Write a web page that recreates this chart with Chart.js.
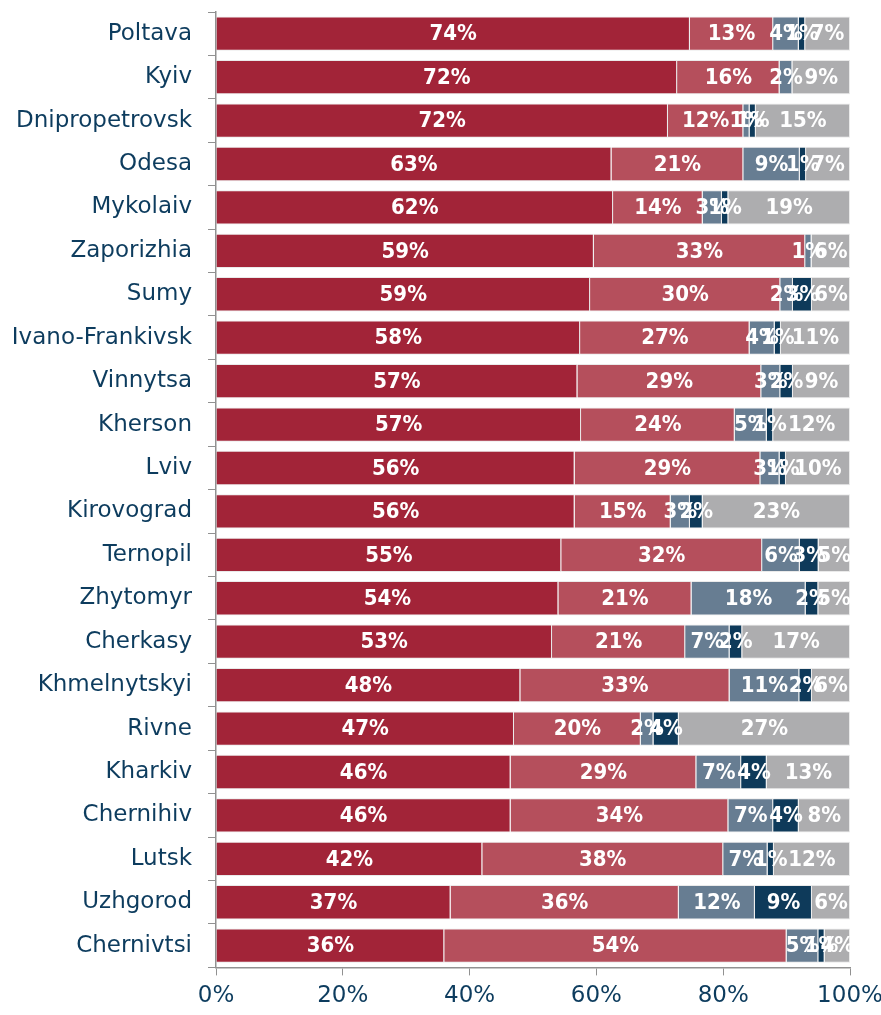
<!DOCTYPE html>
<html>
<head>
<meta charset="utf-8">
<script src="https://cdn.jsdelivr.net/npm/chart.js@4"></script>
<style>
  html, body { margin: 0; padding: 0; background: #fff; }
  #wrap { width: 881px; height: 1015px; }
</style>
</head>
<body>
<div id="wrap"><canvas id="regioes"></canvas></div>
<script>
var cidades = ["Poltava", "Kyiv", "Dnipropetrovsk", "Odesa", "Mykolaiv", "Zaporizhia", "Sumy",
    "Ivano-Frankivsk", "Vinnytsa", "Kherson", "Lviv", "Kirovograd", "Ternopil", "Zhytomyr",
    "Cherkasy", "Khmelnytskyi", "Rivne", "Kharkiv", "Chernihiv", "Lutsk", "Uzhgorod", "Chernivtsi"];

var serie1 = [74, 72, 72, 63, 62, 59, 59, 58, 57, 57, 56, 56, 55, 54, 53, 48, 47, 46, 46, 42, 37, 36];
var serie2 = [13, 16, 12, 21, 14, 33, 30, 27, 29, 24, 29, 15, 32, 21, 21, 33, 20, 29, 34, 38, 36, 54];
var serie3 = [4, 2, 1, 9, 3, 1, 2, 4, 3, 5, 3, 3, 6, 18, 7, 11, 2, 7, 7, 7, 12, 5];
var serie4 = [1, 0, 1, 1, 1, 0, 3, 1, 2, 1, 1, 2, 3, 2, 2, 2, 4, 4, 4, 1, 9, 1];
var serie5 = [7, 9, 15, 7, 19, 6, 6, 11, 9, 12, 10, 23, 5, 5, 17, 6, 27, 13, 8, 12, 6, 4];

var ticks_x = ["0%", "20%", "40%", "60%", "80%", "100%"];

var cores = ["rgb(162, 36, 56)", "rgb(181, 79, 92)", "rgb(103, 125, 146)", "rgb(14, 58, 90)", "rgb(173, 173, 175)"];
var cor_texto = "rgb(13, 60, 94)";
var fonte = "'DejaVu Sans', sans-serif";
var fonte_rotulo = "'DejaVu Sans Condensed', 'DejaVu Sans', sans-serif";

// escreve os rótulos brancos dentro de cada segmento
const rotulos = {
    id: 'rotulos',
    afterDatasetsDraw(chart) {
        const ctx = chart.ctx;
        ctx.save();
        ctx.fillStyle = "#fff";
        ctx.font = "bold 22px " + fonte_rotulo;
        ctx.textAlign = "center";
        ctx.textBaseline = "middle";
        chart.data.datasets.forEach(function (ds, i) {
            chart.getDatasetMeta(i).data.forEach(function (bar, j) {
                if (!ds.brutos[j]) return;
                const p = bar.getProps(['x', 'y', 'base'], true);
                ctx.fillText(ds.brutos[j] + "%", (p.x + p.base) / 2, p.y + 1);
            });
        });
        ctx.restore();
    }
};

function desenha() {
    const ctx = document.getElementById('regioes').getContext('2d');
    var series = [serie1, serie2, serie3, serie4, serie5];
    // como no Excel (100% empilhado): cada barra é normalizada pelo seu total
    var totais = cidades.map(function (c, j) {
        return series.reduce(function (s, serie) { return s + serie[j]; }, 0);
    });
    var datasets = series.map(function (s, i) {
        return {
            label: 'S' + (i + 1),
            data: s.map(function (v, j) { return v / totais[j] * 100; }),
            brutos: s,
            backgroundColor: cores[i],
            borderColor: "rgba(232, 232, 232, 0.9)",
            borderWidth: 1,
            barPercentage: 0.79,
            categoryPercentage: 1.0
        };
    });
    new Chart(ctx, {
        type: 'bar',
        data: { labels: cidades, datasets: datasets },
        options: {
            indexAxis: 'y',
            responsive: true,
            maintainAspectRatio: false,
            animation: false,
            layout: { padding: { top: 12, right: 31, bottom: -2, left: 4 } },
            plugins: { legend: { display: false }, tooltip: { enabled: false } },
            scales: {
                x: {
                    stacked: true,
                    min: 0,
                    max: 100,
                    afterFit: function (eixo) {
                        eixo.paddingRight = 0;
                    },
                    border: { color: "rgb(145,145,145)", width: 1.5 },
                    grid: { drawOnChartArea: false, drawTicks: true, tickLength: 8, color: "rgb(145,145,145)" },
                    ticks: {
                        stepSize: 20,
                        color: cor_texto,
                        font: { size: 23, family: fonte },
                        padding: 7,
                        callback: function (v, i) { return ticks_x[i]; }
                    }
                },
                y: {
                    stacked: true,
                    afterFit: function (eixo) {
                        eixo.width = 212;
                        eixo.paddingTop = 0;
                        eixo.paddingBottom = 0;
                    },
                    border: { color: "rgb(145,145,145)", width: 1.5 },
                    grid: { drawOnChartArea: false, drawTicks: true, tickLength: 8, color: "rgb(145,145,145)", offset: true },
                    ticks: {
                        color: cor_texto,
                        font: { size: 23, family: fonte },
                        padding: 16
                    }
                }
            }
        },
        plugins: [rotulos]
    });
}

window.onload = desenha;
</script>
</body>
</html>
